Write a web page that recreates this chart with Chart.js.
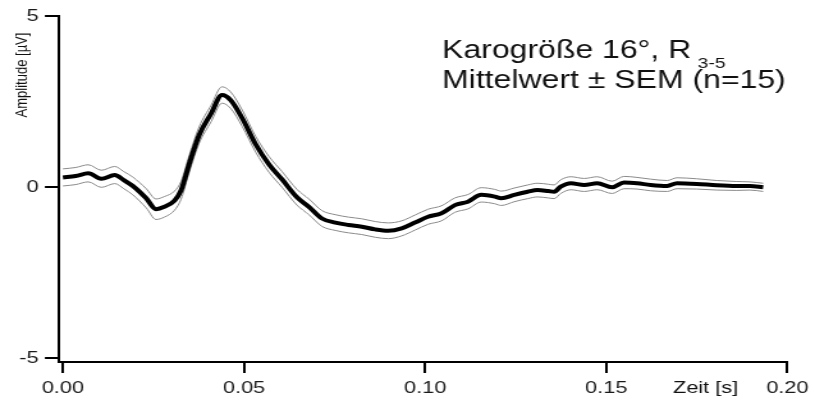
<!DOCTYPE html>
<html>
<head>
<meta charset="utf-8">
<script src="https://cdn.jsdelivr.net/npm/chart.js@4"></script>
<style>
  html, body { margin: 0; padding: 0; background: #fff; }
</style>
</head>
<body>
<!-- drawn narrow, then widened by CSS so text and strokes get the wide look -->
<canvas id="vep" width="637" height="403" style="display:block;width:815px;height:403px"></canvas>
<script>
"use strict";

const zeit = [0.000, 0.0035, 0.0070, 0.0106, 0.0143, 0.0168, 0.0193, 0.0230, 0.0257, 0.0280,
  0.0308, 0.0326, 0.0349, 0.0376, 0.0409, 0.0439, 0.0463, 0.0495, 0.0532, 0.0569,
  0.0605, 0.0646, 0.0679, 0.0715, 0.0752, 0.0788, 0.0825, 0.0862, 0.0898, 0.0935,
  0.0972, 0.1008, 0.1045, 0.1082, 0.1118, 0.1155, 0.1192, 0.1210, 0.1246, 0.1283,
  0.1310, 0.1340, 0.1356, 0.1374, 0.1402, 0.1439, 0.1475, 0.1516, 0.1549, 0.1585,
  0.1622, 0.1668, 0.1695, 0.1750, 0.1805, 0.1860, 0.1896, 0.1933];

const mittelwert = [0.28, 0.32, 0.40, 0.24, 0.35, 0.20, 0.03, -0.33, -0.65, -0.58,
  -0.40, -0.10, 0.69, 1.52, 2.15, 2.69, 2.54, 2.01, 1.25, 0.66,
  0.22, -0.30, -0.58, -0.92, -1.04, -1.11, -1.16, -1.24, -1.28, -1.21,
  -1.04, -0.87, -0.77, -0.53, -0.43, -0.23, -0.28, -0.33, -0.23, -0.14,
  -0.09, -0.12, -0.14, 0.01, 0.11, 0.06, 0.11, -0.01, 0.13, 0.11,
  0.06, 0.03, 0.11, 0.09, 0.05, 0.03, 0.03, -0.01];

const sem = [0.25, 0.25, 0.25, 0.25, 0.25, 0.25, 0.26, 0.28, 0.30, 0.30,
  0.28, 0.26, 0.25, 0.24, 0.24, 0.24, 0.24, 0.24, 0.23, 0.23,
  0.23, 0.23, 0.23, 0.23, 0.23, 0.23, 0.23, 0.23, 0.23, 0.22,
  0.22, 0.22, 0.22, 0.21, 0.21, 0.21, 0.21, 0.21, 0.20, 0.20,
  0.20, 0.20, 0.20, 0.20, 0.19, 0.19, 0.19, 0.18, 0.18, 0.17,
  0.17, 0.16, 0.16, 0.15, 0.14, 0.13, 0.12, 0.12];

const xTicks = [0, 0.05, 0.10, 0.15, 0.20];
const yTicks = [-5, 0, 5];

const FONT = "'Liberation Sans', Arial, sans-serif";

const pts = (ys) => zeit.map((t, i) => ({ x: t, y: ys[i] }));
const oben = mittelwert.map((m, i) => m + sem[i]);
const unten = mittelwert.map((m, i) => m - sem[i]);

// free text: axis titles and the condition label
const beschriftung = {
  id: "beschriftung",
  afterDraw(chart) {
    const c = chart.ctx;
    c.save();
    c.fillStyle = "#111";
    c.textAlign = "left";
    c.textBaseline = "alphabetic";

    c.font = `25px ${FONT}`;
    const zeile1 = "Karogröße 16°, R";
    c.fillText(zeile1, 345.5, 58);
    const w = c.measureText(zeile1).width;
    c.font = `15px ${FONT}`;
    c.fillText("3-5", 345.5 + w + 5, 68);
    c.font = `25px ${FONT}`;
    c.fillText("Mittelwert ± SEM (n=15)", 345.5, 88);

    c.font = `17px ${FONT}`;
    c.fillText("Zeit [s]", 526, 393);

    c.translate(17.2, 75);
    c.rotate(-Math.PI / 2);
    c.textAlign = "center";
    c.textBaseline = "middle";
    c.font = `13px ${FONT}`;
    c.fillText("Amplitude [µV]", 0, 0);
    c.restore();
  }
};

const chart = new Chart(document.getElementById("vep"), {
  type: "line",
  data: {
    datasets: [
      {
        label: "Mittelwert",
        data: pts(mittelwert),
        borderColor: "#000",
        borderWidth: 4,
        pointRadius: 0,
        cubicInterpolationMode: "monotone",
      },
      {
        label: "+SEM",
        data: pts(oben),
        borderColor: "#8a8a8a",
        borderWidth: 1,
        pointRadius: 0,
        cubicInterpolationMode: "monotone",
      },
      {
        label: "-SEM",
        data: pts(unten),
        borderColor: "#8a8a8a",
        borderWidth: 1,
        pointRadius: 0,
        cubicInterpolationMode: "monotone",
      },
    ],
  },
  options: {
    responsive: false,
    animation: false,
    devicePixelRatio: 1,
    layout: { padding: { top: 16, right: 18.7, left: 0, bottom: 0 } },
    plugins: { legend: { display: false }, tooltip: { enabled: false } },
    scales: {
      x: {
        type: "linear",
        min: -0.00109,
        max: 0.2,
        afterBuildTicks: (s) => { s.ticks = xTicks.map((v) => ({ value: v })); },
        afterFit: (s) => { s.height = 41; },
        ticks: {
          padding: 5,
          color: "#1a1a1a",
          font: { family: FONT, size: 17 },
          maxRotation: 0,
          callback: (v) => Number(v).toFixed(2),
        },
        grid: { drawOnChartArea: false, tickLength: 11, color: "#000", lineWidth: 2 },
        border: { color: "#000", width: 2 },
      },
      y: {
        min: -5.117,
        max: 5,
        afterBuildTicks: (s) => { s.ticks = yTicks.map((v) => ({ value: v })); },
        afterFit: (s) => { s.width = 46.1; },
        ticks: {
          padding: 5,
          color: "#1a1a1a",
          font: { family: FONT, size: 17 },
          callback: (v) => String(v),
        },
        grid: { drawOnChartArea: false, tickLength: 11, color: "#000", lineWidth: 2 },
        border: { color: "#000", width: 2 },
      },
    },
  },
  plugins: [beschriftung],
});

// keep the wide display size
chart.canvas.style.width = "815px";
chart.canvas.style.height = "403px";
</script>
</body>
</html>
